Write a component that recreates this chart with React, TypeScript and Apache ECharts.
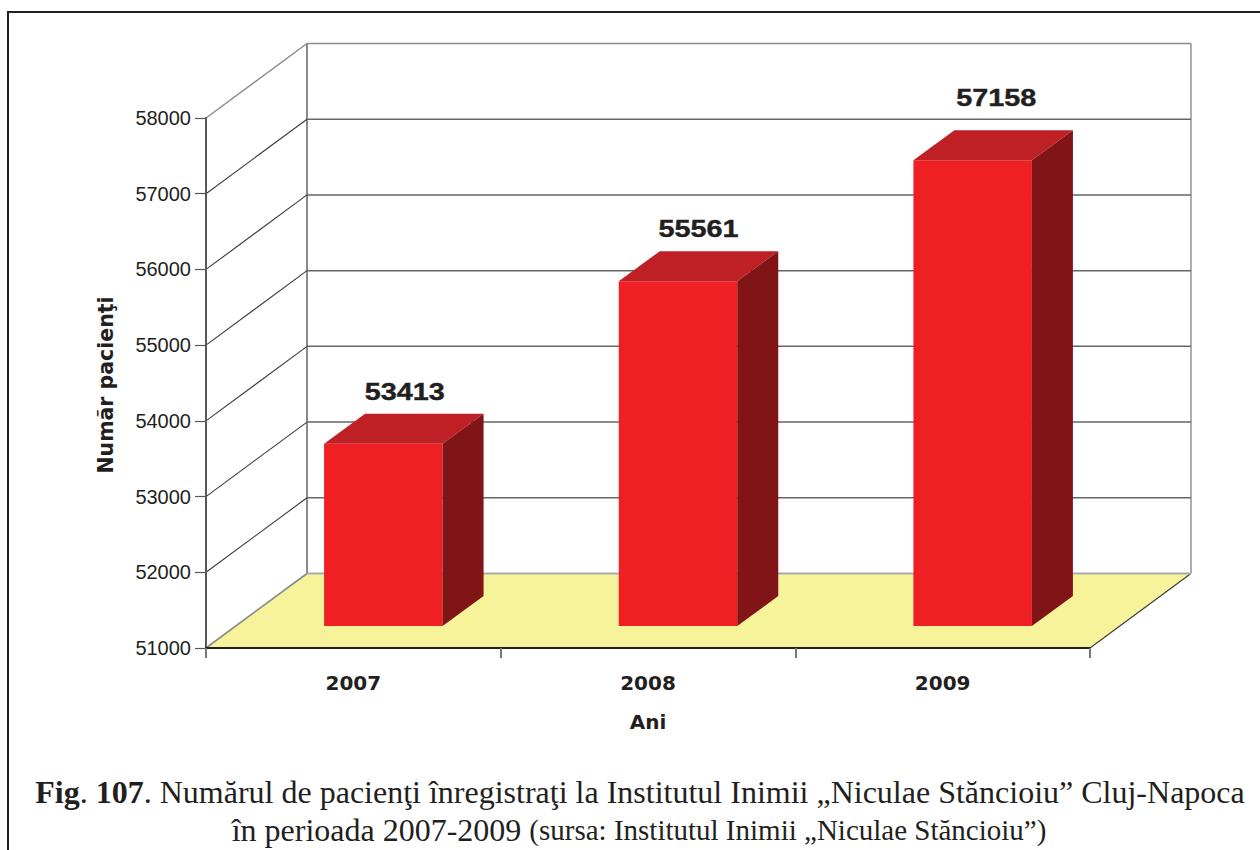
import React, { useEffect, useRef } from "react";
import * as echarts from "echarts";

const categories = ["2007", "2008", "2009"];
const patients = [53413, 55561, 57158];
const yTicks = [51000, 52000, 53000, 54000, 55000, 56000, 57000, 58000];
const yName = "Număr pacienţi";
const xName = "Ani";
const captionLine1 = "{b|Fig}. {b|107}. Numărul de pacienţi înregistraţi la Institutul Inimii „Niculae Stăncioiu” Cluj-Napoca";
const captionLine2 = "în perioada 2007-2009 {s|(sursa: Institutul Inimii „Niculae Stăncioiu”)}";

// pseudo-3D geometry
const DEPTH_X = 101;
const DEPTH_Y = -74.5;
const BAR_INSET_X = 30;
const BAR_INSET_Y = -21.5;
const BAR_W = 118.5;
const BAR_DX = 41;
const BAR_DY = -30;
const LABEL_LIFT = [22, 22.5, 32.5];
const LABEL_SHIFT = [21.5, 20.5, 23.5];

const INK = "#231f20";

function renderWall(params: any, api: any) {
  const cs = params.coordSys;
  const v = api.value(1);
  const y = api.coord([0, v])[1];
  const left = cs.x;
  const right = cs.x + cs.width;
  const isTop = v === yTicks[yTicks.length - 1];
  const isBottom = v === yTicks[0];
  const children: any[] = [];
  if (isBottom) {
    children.push({
      type: "polygon",
      shape: { points: [[left, y], [right, y], [right + DEPTH_X, y + DEPTH_Y], [left + DEPTH_X, y + DEPTH_Y]] },
      style: { fill: "#f7f39b" },
    });
    children.push({
      type: "line",
      shape: { x1: left, y1: y, x2: left + DEPTH_X, y2: y + DEPTH_Y },
      style: { stroke: "#8a8a8c", lineWidth: 1.6 },
    });
    children.push({
      type: "line",
      shape: { x1: right, y1: y, x2: right + DEPTH_X, y2: y + DEPTH_Y },
      style: { stroke: "#3a3a3a", lineWidth: 1.1 },
    });
    const topY = api.coord([0, yTicks[yTicks.length - 1]])[1] + DEPTH_Y;
    children.push({
      type: "line",
      shape: { x1: left + DEPTH_X, y1: y + DEPTH_Y, x2: left + DEPTH_X, y2: topY },
      style: { stroke: "#8a8a8c", lineWidth: 2 },
    });
    children.push({
      type: "line",
      shape: { x1: right + DEPTH_X, y1: y + DEPTH_Y, x2: right + DEPTH_X, y2: topY },
      style: { stroke: "#9a9a9c", lineWidth: 1.6 },
    });
    children.push({
      type: "line",
      shape: { x1: left + DEPTH_X, y1: y + DEPTH_Y, x2: right + DEPTH_X, y2: y + DEPTH_Y },
      style: { stroke: "#aaaaae", lineWidth: 2 },
    });
  } else {
    children.push({
      type: "line",
      shape: { x1: left, y1: y, x2: left + DEPTH_X, y2: y + DEPTH_Y },
      style: { stroke: isTop ? "#8a8a8c" : "#3a3a3a", lineWidth: isTop ? 1.5 : 1.1 },
    });
    children.push({
      type: "line",
      shape: { x1: left + DEPTH_X, y1: y + DEPTH_Y, x2: right + DEPTH_X, y2: y + DEPTH_Y },
      style: { stroke: isTop ? "#8a8a8c" : "#666668", lineWidth: 1.5 },
    });
  }
  return { type: "group", children };
}

function renderBar(params: any, api: any) {
  const i = api.value(0);
  const v = api.value(1);
  const top = api.coord([i, v]);
  const base = api.coord([i, yTicks[0]]);
  const x0 = top[0] + BAR_INSET_X - BAR_W / 2;
  const x1 = x0 + BAR_W;
  const yT = top[1] + BAR_INSET_Y;
  const yB = base[1] - 22;
  return {
    type: "group",
    children: [
      {
        type: "polygon",
        shape: { points: [[x0, yT], [x1, yT], [x1, yB], [x0, yB]] },
        style: { fill: "#ee2024" },
      },
      {
        type: "polygon",
        shape: { points: [[x0, yT], [x1, yT], [x1 + BAR_DX, yT + BAR_DY], [x0 + BAR_DX, yT + BAR_DY]] },
        style: { fill: "#be2026" },
      },
      {
        type: "polygon",
        shape: { points: [[x1, yT], [x1 + BAR_DX, yT + BAR_DY], [x1 + BAR_DX, yB + BAR_DY], [x1, yB]] },
        style: { fill: "#801416" },
      },
      {
        type: "text",
        x: top[0] + BAR_INSET_X + LABEL_SHIFT[params.dataIndex],
        y: yT + BAR_DY - LABEL_LIFT[params.dataIndex],
        scaleX: 1.2,
        style: {
          text: String(v),
          align: "center",
          verticalAlign: "middle",
          fontFamily: "Liberation Sans",
          fontWeight: "bold",
          fontSize: 24,
          fill: INK,
          stroke: INK,
          lineWidth: 0.4,
        },
      },
    ],
  };
}

export default function App() {
  const ref = useRef<HTMLDivElement>(null);
  useEffect(() => {
    document.body.style.margin = "0";
    const chart = echarts.init(ref.current!, undefined, { renderer: "svg" });
    chart.setOption({
      animation: false,
      backgroundColor: "#ffffff",
      grid: { left: 206, top: 118, width: 884, height: 530, containLabel: false },
      xAxis: {
        type: "category",
        data: categories,
        z: 5,
        name: xName,
        nameLocation: "middle",
        nameGap: 64,
        nameTextStyle: { fontFamily: "DejaVu Sans", fontWeight: "bold", fontSize: 20, color: INK },
        axisLine: { lineStyle: { color: INK, width: 2 } },
        axisTick: { show: true, alignWithLabel: false, length: 10, lineStyle: { color: "#77777a", width: 2 } },
        axisLabel: { margin: 25, fontFamily: "DejaVu Sans", fontWeight: "bold", fontSize: 20, color: INK },
        splitLine: { show: false },
      },
      yAxis: {
        type: "value",
        min: 51000,
        max: 58000,
        interval: 1000,
        z: 5,
        name: yName,
        nameLocation: "middle",
        nameRotate: 90,
        nameGap: 90,
        nameTextStyle: { fontFamily: "DejaVu Sans", fontWeight: "bold", fontSize: 20.5, color: INK, padding: [0, 4, 0, 0] },
        axisLine: { show: true, lineStyle: { color: "#58585a", width: 2 } },
        axisTick: { show: true, length: 11, lineStyle: { color: "#58585a", width: 1.2 } },
        axisLabel: { margin: 15, padding: [2, 0, 0, 0], formatter: (v: number) => String(v), fontFamily: "Liberation Sans", fontSize: 20, color: INK },
        splitLine: { show: false },
      },
      series: [
        {
          type: "custom",
          coordinateSystem: "cartesian2d",
          renderItem: renderWall,
          data: yTicks.map((v) => [0, v]),
          silent: true,
        },
        {
          type: "custom",
          coordinateSystem: "cartesian2d",
          renderItem: renderBar,
          data: patients.map((v, i) => [i, v]),
          silent: true,
        },
      ],
      graphic: [
        {
          type: "polyline",
          shape: { points: [[8, 850], [8, 12], [1260, 12]] },
          style: { stroke: INK, lineWidth: 2, fill: "none" },
        },
        {
          type: "text",
          x: 640,
          y: 792,
          style: {
            text: captionLine1,
            align: "center",
            verticalAlign: "middle",
            fontFamily: "Liberation Serif",
            fontSize: 32,
            fill: INK,
            rich: { b: { fontFamily: "Liberation Serif", fontWeight: "bold", fontSize: 32, fill: INK } },
          },
        },
        {
          type: "text",
          x: 639,
          y: 830,
          style: {
            text: captionLine2,
            align: "center",
            verticalAlign: "middle",
            fontFamily: "Liberation Serif",
            fontSize: 32,
            fill: INK,
            rich: { s: { fontFamily: "Liberation Serif", fontSize: 29, fill: INK } },
          },
        },
      ],
    });
    return () => chart.dispose();
  }, []);
  return <div ref={ref} style={{ position: "absolute", left: 0, top: 0, width: 1260, height: 850 }} />;
}
